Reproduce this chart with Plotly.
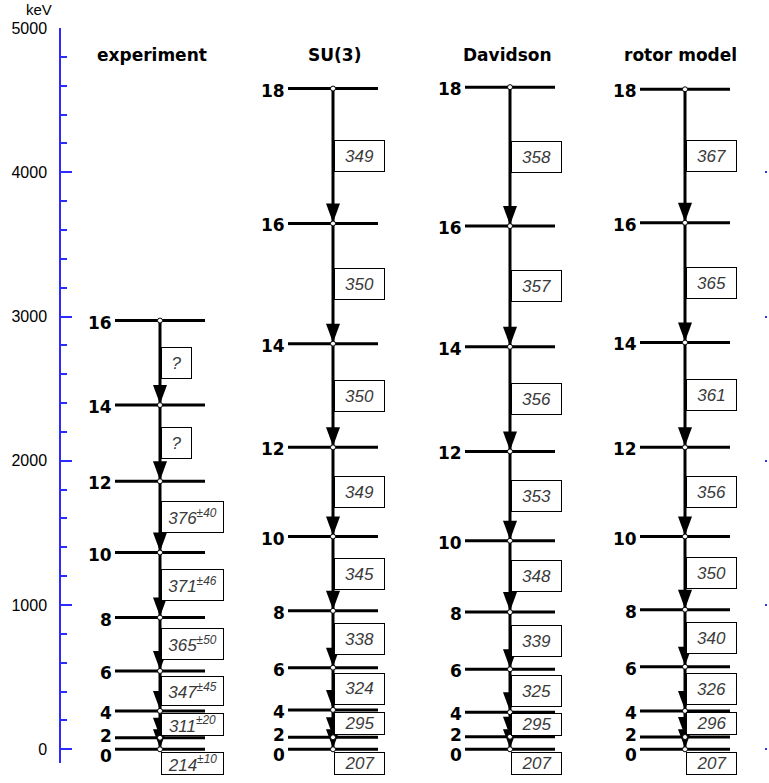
import plotly.graph_objects as go

# ---------------- data ----------------
column_names = ["experiment", "SU(3)", "Davidson", "rotor model"]

exp_spins = [0, 2, 4, 6, 8, 10, 12, 14, 16]
exp_energy = [0, 80, 266, 543, 913, 1364, 1858, 2386, 2972]          # keV
exp_gamma = ["214", "311", "347", "365", "371", "376", "?", "?"]       # transitions I -> I-2, from 2->0 upward
exp_error = [10, 20, 45, 50, 46, 40, None, None]

model_spins = [0, 2, 4, 6, 8, 10, 12, 14, 16, 18]
su3_energy = [0, 83, 273, 566, 960, 1475, 2093, 2812, 3645, 4580]
su3_gamma = ["207", "295", "324", "338", "345", "349", "350", "350", "349"]
dav_energy = [0, 87, 257, 555, 951, 1446, 2065, 2790, 3627, 4590]
dav_gamma = ["207", "295", "325", "339", "348", "353", "356", "357", "358"]
rot_energy = [0, 85, 266, 572, 968, 1475, 2093, 2820, 3650, 4575]
rot_gamma = ["207", "296", "326", "340", "350", "356", "361", "365", "367"]

y_ticks = [0, 1000, 2000, 3000, 4000, 5000]

# ---------------- layout constants ----------------
W, H = 769, 783
ML, MR, MT, MB = 61, 2, 28, 20
Y0, Y1 = -95, 5000
PLOT_W = W - ML - MR
PLOT_H = H - MT - MB
SCALE = PLOT_H / (Y1 - Y0)          # px per keV

col_x = [160, 333, 510, 685]
header_x = [152, 334, 507, 680]
HALF = 45
BLUE = "#2b2bff"
LABEL_GAP = 20


def e2px(e):
    return MT + (Y1 - e) * SCALE


def px2e(p):
    return Y1 - (p - MT) / SCALE


columns = [
    dict(spins=exp_spins, E=exp_energy, gam=exp_gamma, err=exp_error),
    dict(spins=model_spins, E=su3_energy, gam=su3_gamma, err=[None] * len(su3_gamma)),
    dict(spins=model_spins, E=dav_energy, gam=dav_gamma, err=[None] * len(dav_gamma)),
    dict(spins=model_spins, E=rot_energy, gam=rot_gamma, err=[None] * len(rot_gamma)),
]

fig = go.Figure()
shapes = []
annotations = []

lvl_x, lvl_y = [], []
vert_x, vert_y = [], []
dot_x, dot_y = [], []

for ci, col in enumerate(columns):
    cx = col_x[ci]
    E = col["E"]
    spins = col["spins"]
    # level lines
    for e in E:
        lvl_x += [cx - HALF, cx + HALF, None]
        lvl_y += [e, e, None]
        dot_x.append(cx)
        dot_y.append(e)
    # vertical cascade line
    vert_x += [cx, cx, None]
    vert_y += [E[-1], E[0], None]
    # arrowheads at each lower level
    for e in E[:-1]:
        shapes.append(dict(type="path", xref="x", yref="y",
                           xsizemode="pixel", ysizemode="pixel",
                           xanchor=cx, yanchor=e,
                           path="M-7,20 L7,20 L0,1 Z",
                           fillcolor="black", line=dict(width=0), layer="below"))
    # level labels (right aligned, spread apart symmetrically where crowded)
    order = sorted(zip(spins, E), key=lambda t: -t[1])
    centers = [e2px(e) + 2 for _, e in order]
    for k in range(1, len(centers)):
        d = centers[k] - centers[k - 1]
        if d < LABEL_GAP:
            shift = (LABEL_GAP - d) / 2
            centers[k - 1] -= shift
            centers[k] += shift
    for (s, e), c in zip(order, centers):
        annotations.append(dict(x=cx - HALF - 2, y=px2e(c), xref="x", yref="y",
                                text=str(s), showarrow=False, xanchor="right", yanchor="middle",
                                borderpad=0,
                                font=dict(family="DejaVu Sans", size=17, color="black", weight="bold")))
    # transition boxes, from top down
    prev_bottom = None
    n = len(col["gam"])
    for i in range(n - 1, -1, -1):
        e_hi, e_lo = E[i + 1], E[i]
        gap = (e_hi - e_lo) * SCALE
        h = min(32, max(23, 0.75 * gap))
        mid = (e2px(e_hi) + e2px(e_lo)) / 2
        if gap < h:
            top = e2px(e_lo) + 3
        else:
            top = mid - h / 2
            if prev_bottom is not None:
                top = max(top, prev_bottom + 2)
        prev_bottom = top + h
        g = col["gam"][i]
        err = col["err"][i]
        if g == "?":
            w = 31
            txt = "<i>?</i>"
        elif err is not None:
            w = 63
            txt = "<i>%s<sup>±%d</sup></i>" % (g, err)
        else:
            w = 51
            txt = "<i>%s</i>" % g
        annotations.append(dict(x=cx + 1, y=px2e(top), xref="x", yref="y",
                                text=txt, showarrow=False, xanchor="left", yanchor="top",
                                width=w - 2, height=h - 2, borderpad=0, borderwidth=1,
                                bordercolor="black", bgcolor="white", align="center",
                                valign="middle",
                                font=dict(family="Liberation Sans", size=17, color="#3a3a3a")))
    # header
    annotations.append(dict(x=header_x[ci], y=px2e(55), xref="x", yref="y",
                            text=column_names[ci], showarrow=False, xanchor="center", yanchor="middle",
                            font=dict(family="DejaVu Sans", size=17, color="black", weight="bold")))

fig.add_trace(go.Scatter(x=lvl_x, y=lvl_y, mode="lines", line=dict(color="black", width=3),
                         hoverinfo="skip", showlegend=False, cliponaxis=False))
fig.add_trace(go.Scatter(x=vert_x, y=vert_y, mode="lines", line=dict(color="black", width=3),
                         hoverinfo="skip", showlegend=False, cliponaxis=False))
fig.add_trace(go.Scatter(x=dot_x, y=dot_y, mode="markers",
                         marker=dict(symbol="circle", size=5, color="white",
                                     line=dict(color="black", width=1)),
                         hoverinfo="skip", showlegend=False, cliponaxis=False))
fig.add_trace(go.Scatter(x=[ML + 10], y=[Y0 - 1000], yaxis="y2", mode="markers",
                         marker=dict(opacity=0), hoverinfo="skip", showlegend=False))

annotations.append(dict(x=(39 - ML) / PLOT_W, y=1 + (MT - 9) / PLOT_H, xref="paper", yref="paper",
                        text="keV", showarrow=False, xanchor="center", yanchor="middle",
                        font=dict(family="Liberation Sans", size=15, color="black")))

fig.update_layout(
    width=W, height=H,
    margin=dict(l=ML, r=MR, t=MT, b=MB, pad=0),
    paper_bgcolor="white", plot_bgcolor="white",
    showlegend=False,
    xaxis=dict(range=[ML, W - MR], visible=False, fixedrange=True),
    yaxis=dict(range=[Y0, Y1], showgrid=False, zeroline=False,
               showline=True, linecolor=BLUE, linewidth=1.5,
               ticks="inside", ticklen=11, tickwidth=1.5, tickcolor=BLUE,
               tickvals=y_ticks, ticktext=[str(v) for v in y_ticks],
               ticklabelstandoff=9,
               tickfont=dict(family="Liberation Sans", size=16, color="black"),
               minor=dict(dtick=200, ticks="inside", ticklen=6, tickwidth=1.5, tickcolor=BLUE,
                          showgrid=False),
               fixedrange=True),
    yaxis2=dict(range=[Y0, Y1], overlaying="y", side="right", showgrid=False, zeroline=False,
                showline=False, ticks="inside", ticklen=2, tickwidth=2, tickcolor=BLUE,
                tickvals=y_ticks, showticklabels=False, fixedrange=True),
    shapes=shapes,
    annotations=annotations,
)

fig.write_html("out.html")
